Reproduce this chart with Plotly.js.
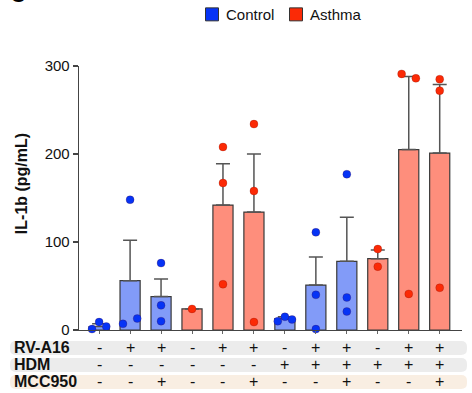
<!DOCTYPE html>
<html>
<head>
<meta charset="utf-8">
<script src="https://cdn.plot.ly/plotly-3.0.1.min.js"></script>
<style>html,body{margin:0;padding:0;background:#fff;}#chart{width:472px;height:393px;}</style>
</head>
<body>
<div id="chart"></div>
<script>
// ---- data ----
var groups = ['Control','Control','Control','Asthma','Asthma','Asthma','Control','Control','Control','Asthma','Asthma','Asthma'];
var means = [4, 56, 38, 24, 142, 134, 13, 51, 78, 81, 205, 201];
var errUp = [3, 46, 20, 0, 47, 66, 2, 32, 50, 10, 83, 78];
var points = [
  [1, 9, 4],
  [7, 148, 13],
  [76, 28, 10],
  [24],
  [208, 167, 52],
  [234, 158, 9],
  [10, 15, 12],
  [111, 40, 1],
  [177, 37, 21],
  [92, 72],
  [291, 286, 41],
  [285, 272, 48]
];
var jitter = [
  [-0.23, 0, 0.23],
  [-0.23, 0, 0.23],
  [0, 0, 0],
  [0],
  [0, 0, 0],
  [0, 0, 0],
  [-0.23, 0, 0.23],
  [0, 0, 0],
  [0, 0, 0],
  [0, 0],
  [-0.23, 0.23, 0],
  [0, 0, 0]
];
var rowLabels = ['RV-A16', 'HDM', 'MCC950'];
var rvA16  = ['-','+','+','-','+','+','-','+','+','-','+','+'];
var hdm    = ['-','-','-','-','-','-','+','+','+','+','+','+'];
var mcc950 = ['-','-','+','-','-','+','-','-','+','-','-','+'];
var yTicks = [0, 100, 200, 300];

// ---- styling ----
var barFill = {Control: '#829bf8', Asthma: '#fe8e7c'};
var dotFill = {Control: '#0633f5', Asthma: '#fb2a06'};

var L = 79, R = 462, T = 65.7, B = 330;
function px2x(p){ return (p - L) / (R - L); }
function px2y(p){ return (B - p) / (B - T); }

var xs = means.map(function(_, i){ return i; });

var traces = [{
  type: 'bar', x: xs, y: means, width: 0.65,
  marker: {color: groups.map(function(g){ return barFill[g]; }), line: {color: '#3a3a3a', width: 1.2}},
  error_y: {type: 'data', symmetric: false, array: errUp, arrayminus: means.map(function(){ return 0; }),
            color: '#555', thickness: 1.5, width: 7},
  showlegend: false, hoverinfo: 'skip'
}];

['Control','Asthma'].forEach(function(g){
  var px = [], py = [];
  points.forEach(function(arr, i){
    if (groups[i] !== g) return;
    arr.forEach(function(v, j){ px.push(i + jitter[i][j]); py.push(v); });
  });
  traces.push({type: 'scatter', mode: 'markers', x: px, y: py, cliponaxis: false,
    marker: {size: 8, color: dotFill[g], line: {color: 'rgba(90,0,0,0.35)', width: 0.6}},
    showlegend: false, hoverinfo: 'skip'});
});

var shapes = [], annotations = [];

function roundRect(x0, y0, x1, y1, r, fill){
  var pts = 'M' + px2x(x0 + r) + ',' + px2y(y0) +
    ' L' + px2x(x1 - r) + ',' + px2y(y0) +
    ' Q' + px2x(x1) + ',' + px2y(y0) + ' ' + px2x(x1) + ',' + px2y(y0 + r) +
    ' L' + px2x(x1) + ',' + px2y(y1 - r) +
    ' Q' + px2x(x1) + ',' + px2y(y1) + ' ' + px2x(x1 - r) + ',' + px2y(y1) +
    ' L' + px2x(x0 + r) + ',' + px2y(y1) +
    ' Q' + px2x(x0) + ',' + px2y(y1) + ' ' + px2x(x0) + ',' + px2y(y1 - r) +
    ' L' + px2x(x0) + ',' + px2y(y0 + r) +
    ' Q' + px2x(x0) + ',' + px2y(y0) + ' ' + px2x(x0 + r) + ',' + px2y(y0) + ' Z';
  shapes.push({type: 'path', xref: 'paper', yref: 'paper', path: pts, fillcolor: fill, line: {width: 0}, layer: 'below'});
}

var rowTop = [341, 358, 375];
var rowFill = ['#ececec', '#ececec', '#f9eee2'];
var rowData = [rvA16, hdm, mcc950];
rowTop.forEach(function(t, r){
  roundRect(10, t, 467, t + 14, 6, rowFill[r]);
  var cy = px2y(t + 7);
  annotations.push({xref: 'paper', yref: 'paper', x: px2x(12), y: cy, xanchor: 'left', yanchor: 'middle',
    text: '<b>' + rowLabels[r] + '</b>', showarrow: false,
    font: {family: 'Liberation Sans, Arial, sans-serif', size: 16, color: '#111'}});
  rowData[r].forEach(function(s, i){
    annotations.push({xref: 'x', yref: 'paper', x: i, y: cy, xanchor: 'center', yanchor: 'middle',
      text: s, showarrow: false, font: {family: 'Liberation Sans, Arial, sans-serif', size: 16, color: '#111'}});
  });
});

// legend (manual)
var legendItems = [{name: 'Control', x: 205.5}, {name: 'Asthma', x: 289.5}];
legendItems.forEach(function(it){
  shapes.push({type: 'rect', xref: 'paper', yref: 'paper', x0: px2x(it.x), x1: px2x(it.x + 13),
    y0: px2y(7.5), y1: px2y(20.5), fillcolor: dotFill[it.name], line: {color: '#333', width: 1}});
  annotations.push({xref: 'paper', yref: 'paper', x: px2x(it.x + 18), y: px2y(14.5), xanchor: 'left', yanchor: 'middle',
    text: it.name, showarrow: false, font: {family: 'Liberation Sans, Arial, sans-serif', size: 15, color: '#111'}});
});

// y-axis title
annotations.push({xref: 'paper', yref: 'paper', x: px2x(21.5), y: px2y(183.5), xanchor: 'center', yanchor: 'middle',
  text: '<b>IL-1b (pg/mL)</b>', textangle: -90, showarrow: false,
  font: {family: 'Liberation Sans, Arial, sans-serif', size: 16, color: '#111'}});

// partial panel letter at top-left
annotations.push({xref: 'paper', yref: 'paper', x: px2x(18.5), y: px2y(9), xanchor: 'center', yanchor: 'bottom',
  text: '<b>C</b>', showarrow: false, font: {family: 'Liberation Sans, Arial, sans-serif', size: 22, color: '#000'}});

var layout = {
  width: 472, height: 393,
  margin: {l: L, r: 472 - R, t: T, b: 393 - B},
  paper_bgcolor: '#fff', plot_bgcolor: '#fff',
  showlegend: false,
  xaxis: {range: [-0.65, 11.72], tickvals: xs, ticktext: xs.map(function(){ return ''; }),
    ticks: 'outside', ticklen: 3, tickcolor: '#666', tickwidth: 1, showgrid: false, zeroline: false,
    showline: true, linecolor: '#444', linewidth: 1.3, fixedrange: true},
  yaxis: {range: [0, 300], tickvals: yTicks, ticks: 'outside', ticklen: 5, tickcolor: '#444', tickwidth: 1.3,
    showgrid: false, zeroline: false, showline: true, linecolor: '#444', linewidth: 1.3,
    tickfont: {family: 'Liberation Sans, Arial, sans-serif', size: 15, color: '#111'}, fixedrange: true},
  shapes: shapes,
  annotations: annotations
};

Plotly.newPlot('chart', traces, layout, {staticPlot: true, displayModeBar: false});
</script>
</body>
</html>
